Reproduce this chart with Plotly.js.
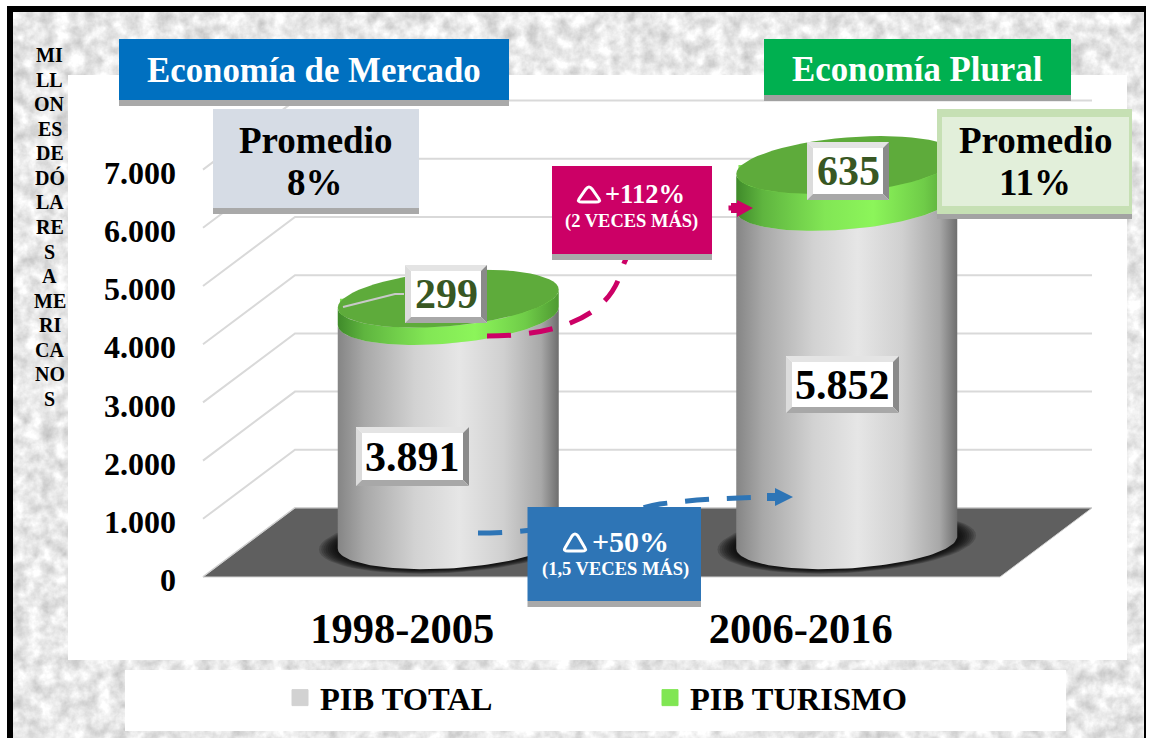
<!DOCTYPE html>
<html><head><meta charset="utf-8">
<script src="https://cdn.plot.ly/plotly-3.0.1.min.js"></script>
<style>
html,body{margin:0;padding:0;background:#fff;width:1149px;height:738px;overflow:hidden}
#frame{position:absolute;left:7px;top:6px;width:1139px;height:732px;box-sizing:border-box;border:6px solid #000;border-bottom:none;border-right-width:2px;
background-image:url("data:image/svg+xml,%3Csvg xmlns='http://www.w3.org/2000/svg' width='1149' height='738'%3E%3Cfilter id='n' color-interpolation-filters='sRGB' x='0' y='0' width='100%25' height='100%25'%3E%3CfeTurbulence type='fractalNoise' baseFrequency='0.07' numOctaves='4' seed='4'/%3E%3CfeColorMatrix values='0.36 0 0 0 0.73 0.36 0 0 0 0.73 0.36 0 0 0 0.73 0 0 0 0 1'/%3E%3C/filter%3E%3Crect width='1149' height='738' filter='url(%23n)'/%3E%3C/svg%3E");}
#chart{position:absolute;left:0;top:0;width:1149px;height:738px}
</style></head><body>
<div id="frame"></div><div id="chart"></div>
<script>
// ---- data ----
const periods = ['1998-2005', '2006-2016'];
const pibTotal = [3891, 5852];
const pibTurismo = [299, 635];
const yTicks = [0, 1000, 2000, 3000, 4000, 5000, 6000, 7000];
const yTickText = ['0', '1.000', '2.000', '3.000', '4.000', '5.000', '6.000', '7.000'];
const seriesNames = ['PIB TOTAL', 'PIB TURISMO'];
const growthTotal = ['+50%', '(1,5 VECES MÁS)'];
const growthTurismo = ['+112%', '(2 VECES MÁS)'];
const averages = ['8%', '11%'];
const eras = ['Economía de Mercado', 'Economía Plural'];
const yTitleLines = ['MI','LL','ON','ES','DE','DÓ','LA','RE','S','A','ME','RI','CA','NO','S'];

// ---- page geometry ----
const W = 1149, H = 738, SERIF = '"Liberation Serif","Times New Roman",serif';
const L = 190, R = 1100, T = 80, B = 590;
const P = x => (x - L) / (R - L), Q = y => (B - y) / (B - T);
const xUnit = 398.5, yUnit = 0.0582;           // px per axis unit
const xRange = [-0.5 + (L - 203) / xUnit, -0.5 + (R - 203) / xUnit];
const yRange = [(577 - B) / yUnit, (577 - T) / yUnit];
const depthX = 92 / xUnit, depthY = 69 / yUnit;  // 3-D depth of the floor in axis units
const midX = depthX / 2, baseY = depthY / 2;
const rx = 110.5 / xUnit;

// ellipse arc in axis units; t in radians; tilt and ry in px
function arc(cx, cy, ryPx, tiltPx, t0, t1, scale = 1, n = 60) {
  const xs = [], ys = [];
  for (let i = 0; i <= n; i++) {
    const t = t0 + (t1 - t0) * i / n, c = Math.cos(t), s = Math.sin(t);
    xs.push(cx + rx * scale * c);
    ys.push(cy + (scale * (ryPx * s + tiltPx * c)) / yUnit);
  }
  return [xs, ys];
}
const PI = Math.PI;
const TOPB = 27.5, TOPT = 9, BOTB = 26, BOTT = 6;
const greyScale = [[0,'#858585'],[0.12,'#a8a8a8'],[0.35,'#d2d2d2'],[0.55,'#e6e6e6'],[0.75,'#d0d0d0'],[0.92,'#a8a8a8'],[1,'#6e6e6e']];
const greenScale = [[0,'#3f8a2a'],[0.12,'#5fb53f'],[0.4,'#82e655'],[0.62,'#8cf55a'],[0.85,'#6fcc48'],[1,'#4f9a32']];

function poly(xs, ys, extra) {
  return Object.assign({type:'scatter', mode:'lines', x:xs, y:ys, fill:'toself', line:{width:0},
    hoverinfo:'skip', showlegend:false}, extra);
}
const traces = [];
// real stacked bars (covered by the cylinder skins)
traces.push({type:'bar', x:periods.map((_, i) => i + midX), y:pibTotal, base:pibTotal.map(() => baseY),
  width:2 * rx * 0.98, marker:{color:'#d2d2d2'}, name:seriesNames[0], showlegend:false, hoverinfo:'skip'});
traces.push({type:'bar', x:periods.map((_, i) => i + midX), y:pibTurismo, base:pibTotal.map(v => baseY + v),
  width:2 * rx * 0.98, marker:{color:'#82e655'}, name:seriesNames[1], showlegend:false, hoverinfo:'skip'});
// grid: diagonal + back wall
yTicks.forEach(v => {
  traces.push({type:'scatter', mode:'lines', x:[-0.5, -0.5 + depthX, 1.5 + depthX], y:[v, v + depthY, v + depthY],
    line:{color:v ? '#d9d9d9' : '#d0d0d0', width:2}, hoverinfo:'skip', showlegend:false});
});
// floor
traces.push(poly([-0.5, -0.5 + depthX, 1.5 + depthX, 1.5, -0.5], [0, depthY, depthY, 0, 0], {fillcolor:'#5f5f5f', line:{color:'#d4d4d4', width:1}}));
// cylinders
periods.forEach((_, i) => {
  const cx = i + midX, yGrey = baseY + pibTotal[i], yTop = yGrey + pibTurismo[i];
  // soft base shadow
  [1.17, 1.15, 1.13, 1.11, 1.09, 1.07, 1.05, 1.03].forEach(s => {
    const [sx, sy] = arc(cx, baseY, BOTB, BOTT, 0, 2 * PI, s);
    traces.push(poly(sx, sy, {fillcolor:'rgba(0,0,0,0.17)'}));
  });
  const [bx, by] = arc(cx, baseY, BOTB, BOTT, PI, 2 * PI);
  const [tx, ty] = arc(cx, yGrey, TOPB, TOPT, 2 * PI, PI);
  traces.push(poly(bx.concat(tx), by.concat(ty), {fillgradient:{type:'horizontal', colorscale:greyScale}, fillcolor:'#d2d2d2'}));
  const [gx, gy] = arc(cx, yGrey, TOPB, TOPT, PI, 2 * PI);
  const [ux, uy] = arc(cx, yTop, TOPB, TOPT, 2 * PI, PI);
  traces.push(poly(gx.concat(ux), gy.concat(uy), {fillgradient:{type:'horizontal', colorscale:greenScale}, fillcolor:'#82e655'}));
  const [ex, ey] = arc(cx, yTop, TOPB, TOPT, 0, 2 * PI);
  traces.push(poly(ex, ey, {fillcolor:'#5eab3b'}));
});
// legend entries
const legendColors = ['#d2d2d2', '#80e653'];
seriesNames.forEach((n, i) => traces.push({type:'scatter', mode:'markers', x:[null], y:[null], name:n,
  marker:{symbol:'square', size:16, color:legendColors[i], line:{color:legendColors[i], width:1}}, hoverinfo:'skip'}));

// ---- decoration helpers (page pixels) ----
const shapes = [], annotations = [];
function rect(x0, y0, x1, y1, fill, layer = 'above', line) {
  shapes.push({type:'rect', xref:'paper', yref:'paper', x0:P(x0), x1:P(x1), y0:Q(y1), y1:Q(y0), fillcolor:fill, layer,
    line:line || {width:0}});
}
function path(d, opt) {
  const s = d.replace(/(-?[\d.]+) (-?[\d.]+)/g, (_, a, b) => P(+a).toFixed(5) + ' ' + Q(+b).toFixed(5));
  shapes.push(Object.assign({type:'path', xref:'paper', yref:'paper', path:s, layer:'above', line:{width:0}}, opt));
}
function txt(text, cx, cy, size, color = '#000') {
  annotations.push({xref:'paper', yref:'paper', x:P(cx), y:Q(cy), xanchor:'center', yanchor:'middle', showarrow:false,
    text, font:{family:SERIF, size, color, weight:700}});
}
function bevel(x0, y0, x1, y1, label, size, color) {
  const d = 6;
  rect(x0, y0, x1, y1, '#ffffff');
  path(`M${x0} ${y0} L${x1} ${y0} L${x1 - d} ${y0 + d} L${x0 + d} ${y0 + d} Z`, {fillcolor:'#e4e4e4'});
  path(`M${x0} ${y0} L${x0 + d} ${y0 + d} L${x0 + d} ${y1 - d} L${x0} ${y1} Z`, {fillcolor:'#dcdcdc'});
  path(`M${x1} ${y0} L${x1} ${y1} L${x1 - d} ${y1 - d} L${x1 - d} ${y0 + d} Z`, {fillcolor:'#8a8a8a'});
  path(`M${x0} ${y1} L${x1} ${y1} L${x1 - d} ${y1 - d} L${x0 + d} ${y1 - d} Z`, {fillcolor:'#a8a8a8'});
  txt(label, (x0 + x1) / 2, (y0 + y1) / 2, size, color);
}
function triangle(x0, x1, y0, y1) {   // outlined delta with rounded corners
  const m = (x0 + x1) / 2, k = 3;
  path(`M${m - k} ${y0 + k} Q${m} ${y0 - 1} ${m + k} ${y0 + k} L${x1} ${y1 - k} Q${x1 + 2} ${y1} ${x1 - k} ${y1} L${x0 + k} ${y1} Q${x0 - 2} ${y1} ${x0} ${y1 - k} Z`,
    {line:{color:'#ffffff', width:3}});
}
// panels
rect(68, 75, 1127, 660, '#ffffff', 'below');
rect(125, 670, 1066, 731, '#ffffff', 'below');
// gridline seen on the first cylinder's top
path('M343 307 L395 294 L404 294', {line:{color:'#c9c9c9', width:2}});
// era headers
rect(119, 100, 509, 106, '#a9a9a9'); rect(119, 39, 509, 100, '#0070c0');
txt(eras[0], 313.5, 70, 34.8, '#ffffff');
rect(764, 95, 1071, 101, '#a0a0a0'); rect(764, 39, 1071, 95, '#00b050');
txt(eras[1], 917.5, 69, 34.8, '#ffffff');
// arrows
path('M487 336 C555 336 608 318 621 272 C634 226 680 208 735 208', {line:{color:'#cc0066', width:5, dash:'24px,18px'}});
path('M731 203 L737 203 L737 200 L753 208 L737 217 L737 213 L731 213 Z', {fillcolor:'#cc0066'});
path('M478 533 C560 533 620 512 660 504 C700 499 730 498 770 497', {line:{color:'#2e75b6', width:5, dash:'24px,18px'}});
path('M767 493 L775 493 L775 488 L793 497 L775 506 L775 501 L767 501 Z', {fillcolor:'#2e75b6'});
// promedio boxes
rect(213, 208, 419, 214, '#a9a9a9'); rect(213, 109, 419, 208, '#d6dce5');
txt('Promedio', 315.5, 140, 37); txt(averages[0], 315, 183, 37);
rect(937, 214, 1132, 219, '#a3a3a3'); rect(937, 109, 1132, 214, '#c6e0b4'); rect(942, 117, 1129, 206, '#e2efda');
txt('Promedio', 1035, 140, 37); txt(averages[1], 1035, 183, 37);
// growth boxes
rect(552, 254, 712, 260, '#a9a9a9'); rect(552, 166, 712, 254, '#cc0066');
triangle(579, 599, 186, 202);
txt(growthTurismo[0], 645, 194, 26.5, '#ffffff'); txt(growthTurismo[1], 631, 221, 18.5, '#ffffff');
rect(527.5, 601, 701, 607, '#a9a9a9'); rect(527.5, 507, 701, 601, '#2e75b6');
triangle(565, 585, 533, 551);
txt(growthTotal[0], 630.5, 541, 30, '#ffffff'); txt(growthTotal[1], 615, 569, 18.5, '#ffffff');
// value labels
const fmt = v => v >= 1000 ? String(v).replace(/(\d)(\d{3})$/, '$1.$2') : String(v);
bevel(405, 265, 487, 323, fmt(pibTurismo[0]), 42, '#385723');
bevel(807, 142, 889, 200, fmt(pibTurismo[1]), 42, '#385723');
bevel(356, 427, 469, 486, fmt(pibTotal[0]), 42, '#000');
bevel(786, 356, 899, 413, fmt(pibTotal[1]), 42, '#000');
// vertical axis title, one syllable per row
yTitleLines.forEach((s, i) => txt(s, 49.5, 55 + i * 24.57, 20));

const layout = {
  width:W, height:H, margin:{l:L, r:W - R, t:T, b:H - B, pad:0}, autosize:false,
  paper_bgcolor:'rgba(0,0,0,0)', plot_bgcolor:'rgba(0,0,0,0)', barmode:'overlay', hovermode:false,
  xaxis:{type:'linear', range:xRange, tickvals:[0, 1], ticktext:periods, showgrid:false, zeroline:false, showline:false, ticks:'',
    ticklabelstandoff:9, tickfont:{family:SERIF, size:42.5, color:'#000', weight:700}, fixedrange:true},
  yaxis:{type:'linear', range:yRange, tickvals:yTicks, ticktext:yTickText, showgrid:false, zeroline:false, showline:false, ticks:'',
    ticklabelstandoff:13, ticklabelshift:3, tickfont:{family:SERIF, size:32, color:'#000', weight:700}, fixedrange:true},
  legend:{orientation:'h', x:P(280), xanchor:'left', y:Q(698), yanchor:'middle', bgcolor:'rgba(0,0,0,0)', traceorder:'normal',
    entrywidth:325, entrywidthmode:'pixels', font:{family:SERIF, size:32.5, color:'#000', weight:700}, itemclick:false, itemdoubleclick:false},
  showlegend:true, shapes, annotations
};
Plotly.newPlot('chart', traces, layout, {displayModeBar:false, staticPlot:true});
</script></body></html>
